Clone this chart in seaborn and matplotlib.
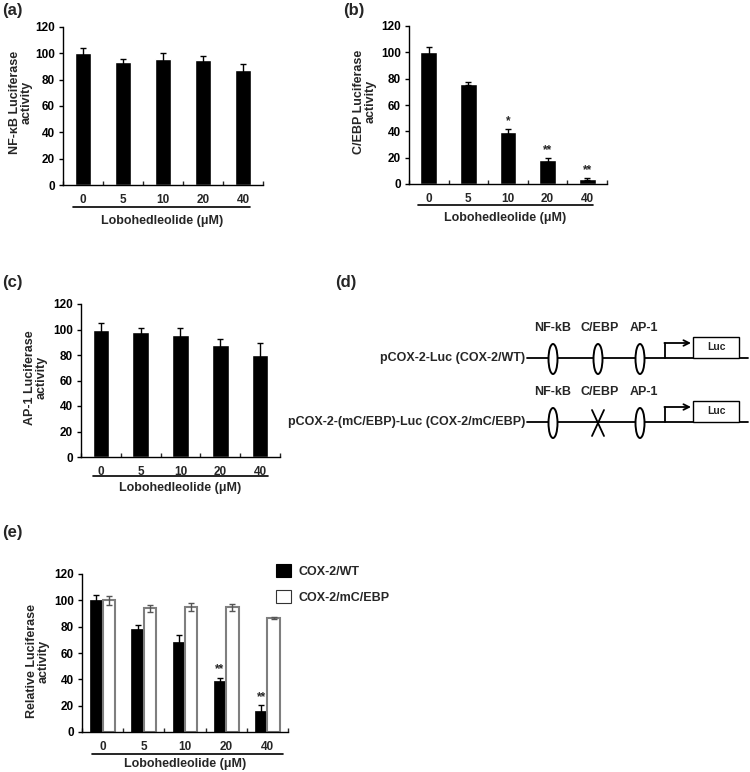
import numpy as np
import pandas as pd
import matplotlib
matplotlib.use("Agg")
import matplotlib.pyplot as plt
from matplotlib.patches import Ellipse, Rectangle, Patch
import seaborn as sns

# ---- data ----
doses = ["0", "5", "10", "20", "40"]

nfkb = [100, 93.5, 95.5, 95, 87]
nfkb_err = [4, 2.5, 4.8, 2.8, 4.8]

cebp = [100.3, 76.2, 39.8, 18.3, 3.5]
cebp_err = [3.8, 1.0, 2.0, 1.5, 0.8]
cebp_stars = ["", "", "*", "**", "**"]

ap1 = [100, 98, 95.3, 88.2, 79.8]
ap1_err = [5.2, 3.5, 6.0, 4.2, 9.8]

wt = [100.5, 78.3, 68, 38.5, 16.3]
wt_err = [3.3, 2.8, 5.6, 2.8, 4.4]
mut = [100, 93.8, 94.6, 94.6, 86.8]
mut_err = [3.4, 2.4, 3.0, 2.6, 0.9]
wt_stars = ["", "", "", "**", "**"]

constructs = ["COX-2/WT", "COX-2/mC/EBP"]
sites = ["NF-kB", "C/EBP", "AP-1"]

W, H = 750, 772
FONT = ["Liberation Sans", "DejaVu Sans"]
TICK_FS = 8.5
LAB_FS = 9

sns.set_style("white")
plt.rcParams["font.family"] = FONT
plt.rcParams["font.weight"] = "bold"
plt.rcParams["axes.labelweight"] = "bold"

fig = plt.figure(figsize=(W / 100, H / 100), dpi=100)


def add_ax(left, right, top, bottom):
    return fig.add_axes([left / W, 1 - bottom / H, (right - left) / W, (bottom - top) / H])


def style_ax(ax, ylabel, ylab_x, ylab_y, line, lab_y, lab_x=0.5):
    ax.set_ylim(0, 120)
    ax.set_xlim(-0.5, 4.5)
    ax.set_yticks(range(0, 121, 20))
    for s in ["top", "right"]:
        ax.spines[s].set_visible(False)
    for s in ["left", "bottom"]:
        ax.spines[s].set_color("black")
        ax.spines[s].set_linewidth(1.0)
    ax.tick_params(axis="y", left=True, direction="out", length=3, width=1,
                   labelsize=TICK_FS, pad=3, colors="black")
    ax.tick_params(axis="x", bottom=False, labelsize=TICK_FS, pad=3)
    ax.set_xticks(np.arange(-0.5, 5, 1), minor=True)
    ax.tick_params(axis="x", which="minor", bottom=True, direction="in", length=3, width=1)
    for t in ax.get_xticklabels() + ax.get_yticklabels():
        t.set_fontweight("bold")
    ax.set_xlabel("")
    ax.set_ylabel("")
    ax.text(ylab_x, ylab_y, ylabel, transform=ax.transAxes, rotation=90,
            ha="center", va="center", fontsize=LAB_FS, fontweight="bold",
            multialignment="center", linespacing=1.0)
    ax.plot(line[:2], [line[2], line[2]], transform=ax.transAxes, clip_on=False,
            color="black", lw=1.2)
    ax.text(lab_x, lab_y, "Lobohedleolide (\u03bcM)", transform=ax.transAxes,
            ha="center", va="center", fontsize=LAB_FS, fontweight="bold")


def single_panel(ax, vals, errs, stars=None):
    df = pd.DataFrame({"dose": doses, "value": vals})
    sns.barplot(data=df, x="dose", y="value", order=doses, color="black",
                width=0.42, errorbar=None, saturation=1, ax=ax)
    ax.errorbar(range(len(doses)), vals, yerr=errs, fmt="none", ecolor="black",
                elinewidth=1, capsize=2.5, capthick=1, zorder=3)
    if stars:
        for i, s in enumerate(stars):
            if s:
                ax.text(i, vals[i] + errs[i] + 1.5, s, ha="center", va="bottom",
                        fontsize=8.5, fontweight="bold")


# (a)
ax_a = add_ax(63, 263, 27, 185)
single_panel(ax_a, nfkb, nfkb_err)
style_ax(ax_a, "NF-\u03baB Luciferase\nactivity", -0.21, 0.52,
         (0.05, 0.935, -0.139), -0.225, 0.495)

# (b)
ax_b = add_ax(409, 607, 26, 184)
single_panel(ax_b, cebp, cebp_err, cebp_stars)
style_ax(ax_b, "C/EBP Luciferase\nactivity", -0.222, 0.52,
         (0.045, 0.93, -0.133), -0.215, 0.485)

# (c)
ax_c = add_ax(81, 280, 304, 457)
single_panel(ax_c, ap1, ap1_err)
style_ax(ax_c, "AP-1 Luciferase\nactivity", -0.226, 0.52,
         (0.06, 0.94, -0.124), -0.2, 0.5)

# (e)
ax_e = add_ax(82, 288, 574, 732)
df_e = pd.DataFrame({
    "dose": doses * 2,
    "construct": [constructs[0]] * 5 + [constructs[1]] * 5,
    "value": wt + mut,
})
sns.barplot(data=df_e, x="dose", y="value", hue="construct", order=doses,
            hue_order=constructs, palette=["black", "white"], width=0.6,
            errorbar=None, saturation=1, legend=False, ax=ax_e)
for cont, vals, errs, ec in zip(ax_e.containers, [wt, mut], [wt_err, mut_err],
                                ["black", "#555555"]):
    xs = [b.get_x() + b.get_width() / 2 for b in cont]
    for b in cont:
        b.set_edgecolor("#7f7f7f" if ec != "black" else "black")
        b.set_linewidth(1.5 if ec != "black" else 0.5)
    ax_e.errorbar(xs, vals, yerr=errs, fmt="none", ecolor=ec, elinewidth=1,
                  capsize=2.5, capthick=1, zorder=3)
    if vals is wt:
        for x, v, e, s in zip(xs, vals, errs, wt_stars):
            if s:
                ax_e.text(x, v + e + 1.5, s, ha="center", va="bottom",
                          fontsize=8.5, fontweight="bold")
style_ax(ax_e, "Relative Luciferase\nactivity", -0.214, 0.45,
         (0.05, 0.975, -0.139), -0.205, 0.5)

handles = [Patch(facecolor="black", edgecolor="black", lw=0.8),
           Patch(facecolor="white", edgecolor="#333333", lw=0.8)]
fig.legend(handles, constructs, loc="upper left",
           bbox_to_anchor=(276 / W, 1 - 564 / H), frameon=False,
           prop={"family": FONT, "weight": "bold", "size": 9},
           handlelength=1.2, handleheight=1.2, labelspacing=1.0,
           handletextpad=0.6, borderpad=0, borderaxespad=0)

# panel letters
for lab, x, y in [("(a)", 2, 10), ("(b)", 343, 10), ("(c)", 2, 283),
                  ("(d)", 335, 283), ("(e)", 2, 533)]:
    fig.text(x / W, 1 - y / H, lab, ha="left", va="center", fontsize=12,
             fontweight="bold")

# (d) promoter schematic, drawn in pixel space
ax_d = fig.add_axes([0, 0, 1, 1], zorder=-1)
ax_d.set_xlim(0, W)
ax_d.set_ylim(H, 0)
ax_d.axis("off")

rows = [("pCOX-2-Luc (COX-2/WT)", 358, False),
        ("pCOX-2-(mC/EBP)-Luc (COX-2/mC/EBP)", 422, True)]
site_x = [553, 598, 640]
lab_x = [553, 600, 644]
for name, y, mutated in rows:
    ax_d.text(525, y, name, ha="right", va="center", fontsize=9, fontweight="bold")
    ax_d.plot([527, 748], [y, y], color="black", lw=1.3, zorder=1)
    for k, (sx, lx, site) in enumerate(zip(site_x, lab_x, sites)):
        ax_d.text(lx, y - 30, site, ha="center", va="center", fontsize=9,
                  fontweight="bold")
        if mutated and site == "C/EBP":
            ax_d.plot([sx - 6, sx + 6], [y - 12, y + 14], color="black", lw=1.3)
            ax_d.plot([sx + 6, sx - 6], [y - 12, y + 14], color="black", lw=1.3)
        else:
            ax_d.add_patch(Ellipse((sx, y + 1), 9, 30, facecolor="white",
                                   edgecolor="black", lw=1.4, zorder=2))
    ax_d.plot([665, 665], [y, y - 15], color="black", lw=1.3)
    ax_d.annotate("", xy=(691, y - 15), xytext=(664.4, y - 15),
                  arrowprops=dict(arrowstyle="->", lw=1.3, color="black",
                                  shrinkA=0, shrinkB=0))
    ax_d.add_patch(Rectangle((693, y - 21), 46, 21, facecolor="white",
                             edgecolor="black", lw=1.0, zorder=2))
    ax_d.text(716, y - 10.5, "Luc", ha="center", va="center", fontsize=7.5,
              fontweight="bold")

fig.savefig("out.png", dpi=100)
